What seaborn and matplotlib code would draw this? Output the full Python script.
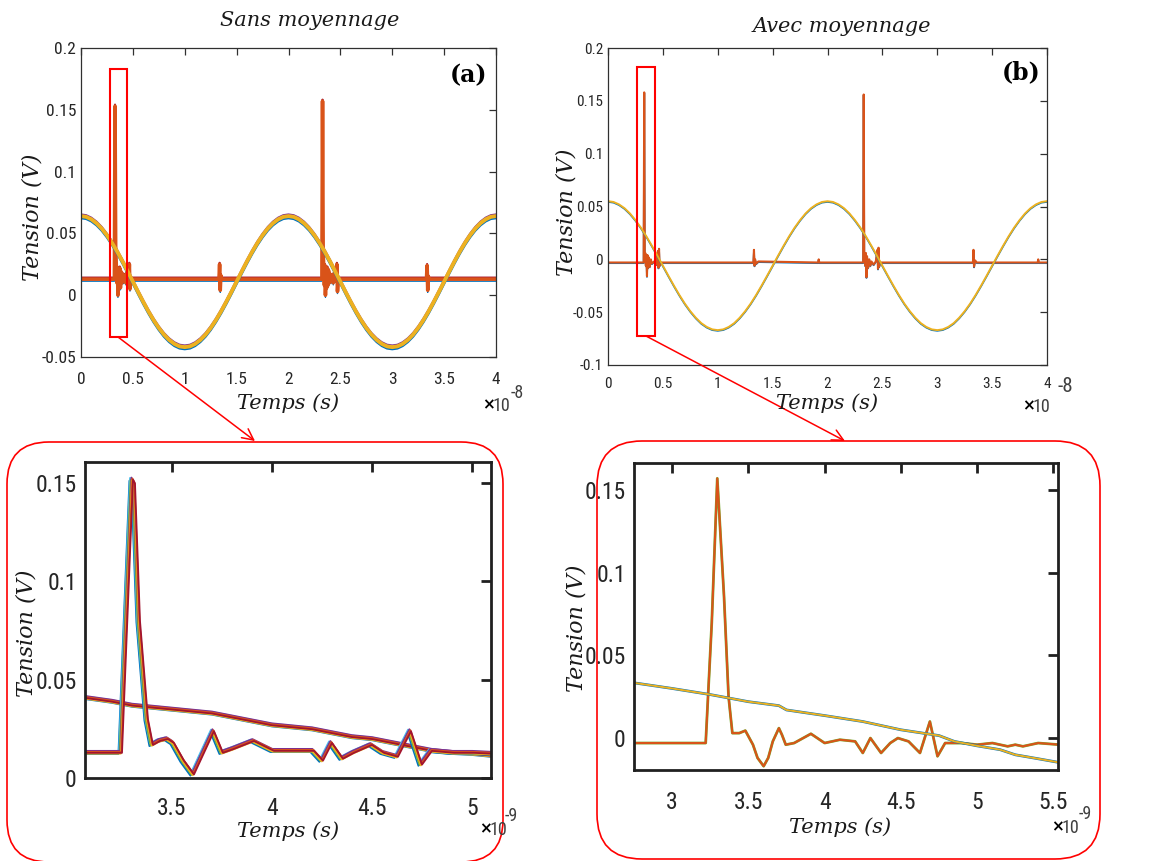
import os
import numpy as np
import matplotlib
matplotlib.use('Agg')
import matplotlib.pyplot as plt
import seaborn as sns
from matplotlib import font_manager
from matplotlib.font_manager import FontProperties
from matplotlib.patches import Rectangle, FancyBboxPatch, FancyArrowPatch

# ---- data ----
# top panels, time in units of 1e-8 s
sine_t = [0.0, 0.05, 0.1, 0.15, 0.2, 0.25, 0.3, 0.35, 0.4, 0.45, 0.5, 0.55, 0.6, 0.65,
          0.7, 0.75, 0.8, 0.85, 0.9, 0.95, 1.0, 1.05, 1.1, 1.15, 1.2, 1.25, 1.3, 1.35,
          1.4, 1.45, 1.5, 1.55, 1.6, 1.65, 1.7, 1.75, 1.8, 1.85, 1.9, 1.95, 2.0, 2.05,
          2.1, 2.15, 2.2, 2.25, 2.3, 2.35, 2.4, 2.45, 2.5, 2.55, 2.6, 2.65, 2.7, 2.75,
          2.8, 2.85, 2.9, 2.95, 3.0, 3.05, 3.1, 3.15, 3.2, 3.25, 3.3, 3.35, 3.4, 3.45,
          3.5, 3.55, 3.6, 3.65, 3.7, 3.75, 3.8, 3.85, 3.9, 3.95, 4.0]
sine_a = [0.064, 0.0634, 0.0614, 0.0582, 0.0539, 0.0485, 0.0422, 0.0351, 0.0274, 0.0193,
          0.011, 0.0027, -0.0054, -0.0131, -0.0202, -0.0265, -0.0319, -0.0362, -0.0394,
          -0.0414, -0.042, -0.0414, -0.0394, -0.0362, -0.0319, -0.0265, -0.0202, -0.0131,
          -0.0054, 0.0027, 0.011, 0.0193, 0.0274, 0.0351, 0.0422, 0.0485, 0.0539, 0.0582,
          0.0614, 0.0634, 0.064, 0.0634, 0.0614, 0.0582, 0.0539, 0.0485, 0.0422, 0.0351,
          0.0274, 0.0193, 0.011, 0.0027, -0.0054, -0.0131, -0.0202, -0.0265, -0.0319,
          -0.0362, -0.0394, -0.0414, -0.042, -0.0414, -0.0394, -0.0362, -0.0319, -0.0265,
          -0.0202, -0.0131, -0.0054, 0.0027, 0.011, 0.0193, 0.0274, 0.0351, 0.0422, 0.0485,
          0.0539, 0.0582, 0.0614, 0.0634, 0.064]
sine_b = [0.055, 0.0543, 0.052, 0.0484, 0.0434, 0.0371, 0.0299, 0.0217, 0.0128, 0.0035,
          -0.006, -0.0155, -0.0248, -0.0337, -0.0419, -0.0491, -0.0553, -0.0604, -0.064,
          -0.0663, -0.067, -0.0663, -0.064, -0.0604, -0.0553, -0.0491, -0.0419, -0.0337,
          -0.0248, -0.0155, -0.006, 0.0035, 0.0128, 0.0217, 0.0299, 0.0371, 0.0434, 0.0484,
          0.052, 0.0543, 0.055, 0.0543, 0.052, 0.0484, 0.0434, 0.0371, 0.0299, 0.0217,
          0.0128, 0.0035, -0.006, -0.0155, -0.0248, -0.0337, -0.0419, -0.0491, -0.0553,
          -0.0604, -0.064, -0.0663, -0.067, -0.0663, -0.064, -0.0604, -0.0553, -0.0491,
          -0.0419, -0.0337, -0.0248, -0.0155, -0.006, 0.0035, 0.0128, 0.0217, 0.0299,
          0.0371, 0.0434, 0.0484, 0.052, 0.0543, 0.055]

pulse_t_a = [0.0, 0.322, 0.328, 0.334, 0.340, 0.346, 0.352, 0.356, 0.362, 0.368,
             0.374, 0.380, 0.386, 0.392, 0.400, 0.410, 0.420, 0.432, 0.440, 0.452,
             0.460, 0.466, 0.472, 0.480, 1.330, 1.336, 1.342, 1.348, 1.356,
             2.322, 2.328, 2.334, 2.340, 2.346, 2.352, 2.356, 2.362, 2.368, 2.374,
             2.380, 2.386, 2.392, 2.400, 2.410, 2.420, 2.432, 2.440, 2.452, 2.460,
             2.466, 2.472, 2.480, 3.330, 3.336, 3.342, 3.348, 3.356, 4.0]
pulse_a = [0.013, 0.013, 0.153, 0.040, 0.024, 0.010, 0.022, 0.000, 0.020, 0.008,
           0.022, 0.006, 0.019, 0.010, 0.017, 0.011, 0.016, 0.010, 0.018, 0.012,
           0.013, 0.025, 0.005, 0.013, 0.013, 0.025, 0.004, 0.016, 0.013,
           0.013, 0.157, 0.035, 0.022, 0.008, 0.024, 0.000, 0.020, 0.006, 0.022,
           0.008, 0.020, 0.010, 0.017, 0.011, 0.016, 0.010, 0.018, 0.012, 0.013,
           0.025, 0.003, 0.013, 0.013, 0.024, 0.004, 0.015, 0.013, 0.013]

pulse_t_b = [0.0, 0.325, 0.330, 0.335, 0.340, 0.345, 0.350, 0.355, 0.360, 0.365,
             0.370, 0.380, 0.390, 0.400, 0.420, 0.440, 0.455, 0.460, 0.465, 0.470,
             0.480, 1.325, 1.330, 1.335, 1.340, 1.350, 1.370, 1.915, 1.920, 1.925,
             2.325, 2.330, 2.335, 2.340, 2.345, 2.350, 2.355, 2.360, 2.370, 2.380,
             2.390, 2.400, 2.420, 2.440, 2.455, 2.460, 2.465, 2.470, 2.480,
             3.325, 3.330, 3.335, 3.345, 3.360, 3.915, 3.920, 3.925, 4.0]
pulse_b = [-0.003, -0.003, 0.158, 0.000, 0.006, -0.006, 0.004, -0.016, 0.004, -0.008,
           0.002, -0.007, 0.000, -0.004, -0.002, -0.005, 0.008, -0.008, 0.010, -0.006,
           -0.003, -0.003, 0.009, -0.006, 0.000, -0.004, -0.002, -0.003, 0.000, -0.003,
           -0.003, 0.156, -0.002, 0.004, -0.006, 0.006, -0.017, 0.003, -0.008, 0.000,
           -0.006, -0.002, -0.005, -0.002, 0.009, -0.009, 0.011, -0.007, -0.003,
           -0.003, 0.009, -0.007, -0.001, -0.003, -0.003, 0.000, -0.003, -0.003]

# bottom panels, time in units of 1e-9 s
sine_t_c = [3.06, 3.2, 3.3, 3.4, 3.5, 3.6, 3.7, 3.8, 3.9, 4.0, 4.1, 4.2, 4.3, 4.4,
            4.5, 4.6, 4.7, 4.8, 4.9, 5.0, 5.1]
sine_c = [0.041, 0.039, 0.037, 0.036, 0.035, 0.034, 0.033, 0.031, 0.029, 0.027, 0.026,
          0.025, 0.023, 0.021, 0.020, 0.018, 0.016, 0.014, 0.013, 0.0125, 0.0115]
pulse_t_c = [3.06, 3.15, 3.24, 3.27, 3.295, 3.305, 3.33, 3.37, 3.395, 3.43,
             3.47, 3.5, 3.55, 3.6, 3.65, 3.70, 3.745, 3.8, 3.9, 4.0,
             4.1, 4.2, 4.245, 4.29, 4.345, 4.4, 4.49, 4.55, 4.62, 4.685,
             4.74, 4.79, 4.9, 5.0, 5.1]
pulse_c = [0.013, 0.013, 0.013, 0.089, 0.152, 0.150, 0.080, 0.030, 0.017, 0.019,
           0.020, 0.018, 0.009, 0.002, 0.013, 0.024, 0.013, 0.015, 0.019, 0.014,
           0.014, 0.014, 0.009, 0.018, 0.010, 0.013, 0.017, 0.013, 0.011, 0.024,
           0.007, 0.014, 0.013, 0.013, 0.0125]

sine_t_d = [2.75, 3.0, 3.25, 3.5, 3.7, 3.75, 4.0, 4.25, 4.5, 4.75, 4.85, 5.0, 5.15,
            5.25, 5.4, 5.54]
sine_d = [0.0334, 0.030, 0.0263, 0.022, 0.0196, 0.017, 0.0136, 0.010, 0.005, 0.0015,
          -0.002, -0.0047, -0.007, -0.0101, -0.0125, -0.0148]
pulse_t_d = [2.75, 3.1, 3.22, 3.26, 3.296, 3.34, 3.37, 3.395, 3.44, 3.48,
             3.53, 3.56, 3.60, 3.63, 3.66, 3.70, 3.72, 3.745, 3.80, 3.91,
             4.0, 4.1, 4.2, 4.25, 4.30, 4.37, 4.43, 4.48, 4.55, 4.625,
             4.69, 4.74, 4.79, 4.9, 5.0, 5.1, 5.2, 5.25, 5.3, 5.4, 5.54]
pulse_d = [-0.003, -0.003, -0.003, 0.070, 0.157, 0.086, 0.025, 0.003, 0.003, 0.0045,
           -0.004, -0.012, -0.017, -0.012, -0.002, 0.006, 0.002, -0.004, -0.003, 0.0026,
           -0.003, -0.001, -0.002, -0.009, 0.000, -0.009, -0.003, 0.000, -0.002, -0.009,
           0.010, -0.011, -0.003, -0.003, -0.004, -0.003, -0.005, -0.004, -0.005, -0.003,
           -0.004]

# tick labels
top_xticks = [0, 0.5, 1, 1.5, 2, 2.5, 3, 3.5, 4]
top_xlabels = ['0', '0.5', '1', '1.5', '2', '2.5', '3', '3.5', '4']
a_yticks = [-0.05, 0, 0.05, 0.1, 0.15, 0.2]
a_ylabels = ['-0.05', '0', '0.05', '0.1', '0.15', '0.2']
b_yticks = [-0.1, -0.05, 0, 0.05, 0.1, 0.15, 0.2]
b_ylabels = ['-0.1', '-0.05', '0', '0.05', '0.1', '0.15', '0.2']
c_xticks = [3.5, 4, 4.5, 5]
c_xlabels = ['3.5', '4', '4.5', '5']
d_xticks = [3, 3.5, 4, 4.5, 5, 5.5]
d_xlabels = ['3', '3.5', '4', '4.5', '5', '5.5']
bot_yticks = [0, 0.05, 0.1, 0.15]
bot_ylabels = ['0', '0.05', '0.1', '0.15']

# zoom windows drawn on the top panels
zoom_a = (0.28, -0.034, 0.16, 0.217)
zoom_b = (0.264, -0.0726, 0.164, 0.2546)

# MATLAB default colours
BLUE, ORANGE, YELLOW, PURPLE = '#0072BD', '#D95319', '#EDB120', '#7E2F8E'
GREEN, CYAN, DRED = '#77AC30', '#4DBEEE', '#A2142F'

sns.set_style('white')
plt.rcParams['font.family'] = ['DejaVu Sans']
SERIF = ['DejaVu Serif']

# MATLAB tick labels look condensed: use a narrow sans if one is installed
narrow = [f for f in font_manager.fontManager.ttflist
          if ('Narrow' in os.path.basename(f.fname) or 'Condensed' in os.path.basename(f.fname))
          and f.style == 'normal' and f.weight in (400, 'normal', 'regular')]
pref = ['LiberationSansNarrow-Regular', 'RobotoCondensed-Regular', 'NotoSans-Condensed.',
        'DejaVuSansCondensed.']
tick_file = None
for p in pref:
    for f in narrow:
        if p in os.path.basename(f.fname):
            tick_file = f.fname
            break
    if tick_file:
        break
if tick_file is None and narrow:
    tick_file = narrow[0].fname


def tick_fp(size):
    if tick_file:
        fp = FontProperties(fname=tick_file)
    else:
        fp = FontProperties(family=['Liberation Sans', 'DejaVu Sans'])
    fp.set_size(size)
    return fp


W, H = 1153, 861
fig = plt.figure(figsize=(W / 100, H / 100), dpi=100)


def px_axes(l, t, r, b):
    return fig.add_axes([l / W, 1 - b / H, (r - l) / W, (b - t) / H])


def line(ax, x, y, c, lw, dy=0.0):
    sns.lineplot(x=x, y=np.asarray(y) + dy, ax=ax, color=c, linewidth=lw,
                 estimator=None, sort=False, legend=False)


def style(ax, xt, xl, yt, yl, fs, lw, tl, xpad, ypad, col):
    ax.set_xticks(xt, xl)
    ax.set_yticks(yt, yl)
    for s in ax.spines.values():
        s.set_visible(True)
        s.set_linewidth(lw)
        s.set_color(col)
    ax.tick_params(direction='in', top=True, right=True, length=tl, width=lw,
                   color=col, labelcolor='#262626')
    ax.tick_params(axis='x', pad=xpad)
    ax.tick_params(axis='y', pad=ypad)
    for lab in ax.get_xticklabels() + ax.get_yticklabels():
        lab.set_fontproperties(tick_fp(fs))
    ax.set_xlabel('')
    ax.set_ylabel('')
    ax.set_facecolor('white')


# (a) top left, without averaging: thick noisy bands
ax1 = px_axes(81, 48, 496, 357)
line(ax1, pulse_t_a, pulse_a, BLUE, 0.9, -0.0017)
line(ax1, pulse_t_a, pulse_a, DRED, 1.4, 0.0013)
line(ax1, pulse_t_a, pulse_a, ORANGE, 2.6)
line(ax1, sine_t, sine_a, BLUE, 1.8, -0.0016)
line(ax1, sine_t, sine_a, PURPLE, 1.4, 0.0014)
line(ax1, sine_t, sine_a, YELLOW, 2.8)
ax1.set_xlim(0, 4)
ax1.set_ylim(-0.05, 0.2)
style(ax1, top_xticks, top_xlabels, a_yticks, a_ylabels, 12.5, 0.9, 5, 11, 3.5, '#303030')
ax1.add_patch(Rectangle(zoom_a[:2], zoom_a[2], zoom_a[3], fill=False, ec='red', lw=1.5, zorder=5))

# (b) top right, with averaging: thin traces
ax2 = px_axes(608, 48, 1047, 365)
line(ax2, pulse_t_b, pulse_b, BLUE, 1.3, -0.0006)
line(ax2, pulse_t_b, pulse_b, ORANGE, 1.5)
line(ax2, sine_t, sine_b, BLUE, 1.2, -0.0007)
line(ax2, sine_t, sine_b, YELLOW, 1.4)
ax2.set_xlim(0, 4)
ax2.set_ylim(-0.1, 0.2)
style(ax2, top_xticks, top_xlabels, b_yticks, b_ylabels, 11, 0.9, 5, 8.5, 3.5, '#303030')
ax2.add_patch(Rectangle(zoom_b[:2], zoom_b[2], zoom_b[3], fill=False, ec='red', lw=1.5, zorder=5))

# (c) bottom left, zoom without averaging (several acquisitions, slightly apart)
ax3 = px_axes(85, 462, 491, 778)
c_traces = [(BLUE, -0.008, -0.0008), (CYAN, -0.005, 0.0006), (GREEN, -0.002, -0.0004),
            (PURPLE, 0.002, 0.0008), (YELLOW, 0.004, -0.0006), (ORANGE, 0.007, 0.0003),
            (DRED, 0.010, -0.0002)]
for c, dt, dv in c_traces:
    line(ax3, sine_t_c, sine_c, c, 1.3, dv)
for c, dt, dv in c_traces:
    line(ax3, np.array(pulse_t_c) + dt, pulse_c, c, 1.3, dv)
ax3.set_xlim(3.065, 5.095)
ax3.set_ylim(0, 0.1607)
style(ax3, c_xticks, c_xlabels, bot_yticks, bot_ylabels, 17, 2.0, 7, 14, 6, '#202020')

# (d) bottom right, zoom with averaging
ax4 = px_axes(634, 463, 1058, 770)
line(ax4, pulse_t_d, pulse_d, GREEN, 2.0)
line(ax4, pulse_t_d, pulse_d, ORANGE, 1.5)
line(ax4, sine_t_d, sine_d, BLUE, 2.0)
line(ax4, sine_t_d, sine_d, YELLOW, 1.4)
ax4.set_xlim(2.75, 5.53)
ax4.set_ylim(-0.0193, 0.1663)
style(ax4, d_xticks, d_xlabels, bot_yticks, bot_ylabels, 17, 2.0, 7, 15, 6, '#202020')

# overlay in pixel coordinates for boxes, arrows and texts
ov = fig.add_axes([0, 0, 1, 1])
ov.set_xlim(0, W)
ov.set_ylim(H, 0)
ov.axis('off')
ov.patch.set_alpha(0)
ov.set_zorder(10)

ov.add_patch(FancyBboxPatch((7, 442), 496, 420, boxstyle='round,pad=0,rounding_size=42',
                            fc='none', ec='red', lw=1.2))
ov.add_patch(FancyBboxPatch((597, 441), 503, 418, boxstyle='round,pad=0,rounding_size=45',
                            fc='none', ec='red', lw=1.2))
ov.add_patch(FancyArrowPatch((118, 337), (255, 441), arrowstyle='->', mutation_scale=20,
                             color='red', lw=1.1, shrinkA=0, shrinkB=0))
ov.add_patch(FancyArrowPatch((646, 336), (845, 441), arrowstyle='->', mutation_scale=20,
                             color='red', lw=1.1, shrinkA=0, shrinkB=0))

it = dict(family=SERIF, style='italic', color='#1a1a1a', ha='center', va='center')
ov.text(310, 21, 'Sans moyennage', fontsize=15, **it)
ov.text(842, 27, 'Avec moyennage', fontsize=15, **it)
ov.text(33, 217, 'Tension (V)', fontsize=16, rotation=90, **it)
ov.text(566, 212, 'Tension (V)', fontsize=16, rotation=90, **it)
ov.text(26, 633, 'Tension (V)', fontsize=16, rotation=90, **it)
ov.text(577, 628, 'Tension (V)', fontsize=16, rotation=90, **it)
ov.text(288, 403, 'Temps (s)', fontsize=15, **it)
ov.text(827, 403, 'Temps (s)', fontsize=15, **it)
ov.text(288, 831, 'Temps (s)', fontsize=15, **it)
ov.text(840, 827, 'Temps (s)', fontsize=15, **it)

bd = dict(family=SERIF, fontweight='bold', color='black', ha='center', va='center', fontsize=17)
ov.text(469, 75, '(a)', **bd)
ov.text(1021, 72, '(b)', **bd)

xm = dict(color='black', fontweight='bold', va='center', ha='left', fontsize=11)


def exp_label(x, y, sup_x, sup_y, sup_txt, sup_size=13):
    ov.text(x, y, '×', **xm)
    ov.text(x + 11, y + 1, '10', color='#404040', va='center', ha='left',
            fontproperties=tick_fp(13))
    ov.text(sup_x, sup_y, sup_txt, color='#404040', va='center', ha='left',
            fontproperties=tick_fp(sup_size))


exp_label(482, 405, 511, 393, '-8')
exp_label(1022, 406, 1057, 386, '-8', 15)
exp_label(479, 829, 505, 816, '-9')
exp_label(1051, 827, 1079, 814, '-9')

fig.savefig('out.png', dpi=100, facecolor='white')
